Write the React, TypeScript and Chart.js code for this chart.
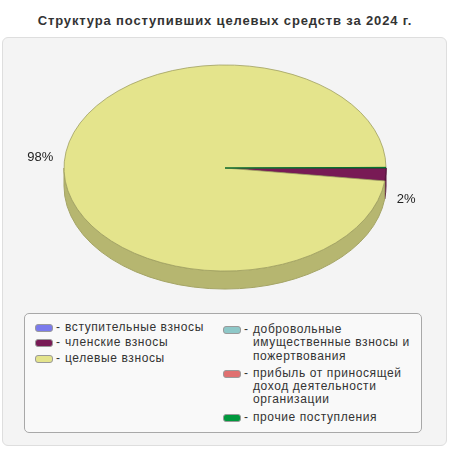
import React, { useEffect, useRef } from 'react';
import { Chart, registerables } from 'chart.js';

Chart.register(...registerables);

const title = 'Структура поступивших целевых средств за 2024 г.';

const categories = [
  'вступительные взносы',
  'членские взносы',
  'целевые взносы',
  'добровольные имущественные взносы и пожертвования',
  'прибыль от приносящей доход деятельности организации',
  'прочие поступления',
];

// shares, %
const shares = [0, 2.0, 97.9, 0, 0, 0.1];

const colors = ['#7b7bec', '#781a55', '#e4e48c', '#8ec8c8', '#e07070', '#00993d'];

const TILT = 0.64; // vertical squash of the pie
const DEPTH = 18; // thickness of the 3D side

const shade = (hex: string, f: number) => {
  const n = parseInt(hex.slice(1), 16);
  const r = Math.round(((n >> 16) & 255) * f);
  const g = Math.round(((n >> 8) & 255) * f);
  const b = Math.round((n & 255) * f);
  return `rgb(${r}, ${g}, ${b})`;
};

const total = shares.reduce((a, b) => a + b, 0);

const pie3d = {
  id: 'pie3d',
  beforeDatasetsDraw(chart: any) {
    const { ctx } = chart;
    const arcs = chart.getDatasetMeta(0).data as any[];
    if (!arcs.length) return;
    const { x: cx, y: cy, outerRadius: R } = arcs[0];
    const ry = R * TILT;

    // side walls, only the front half (0..PI) is visible
    arcs.forEach((arc, i) => {
      for (let k = -1; k <= 1; k++) {
        const lo = Math.max(arc.startAngle, 2 * Math.PI * k);
        const hi = Math.min(arc.endAngle, 2 * Math.PI * k + Math.PI);
        if (hi <= lo) continue;
        ctx.beginPath();
        ctx.ellipse(cx, cy, R, ry, 0, lo, hi);
        ctx.ellipse(cx, cy + DEPTH, R, ry, 0, hi, lo, true);
        ctx.closePath();
        ctx.fillStyle = shade(colors[i], 0.8);
        ctx.fill();
        ctx.strokeStyle = shade(colors[i], 0.72);
        ctx.lineWidth = 1;
        ctx.stroke();
      }
    });

    // squash the top face into an ellipse
    ctx.save();
    ctx.translate(cx, cy);
    ctx.scale(1, TILT);
    ctx.translate(-cx, -cy);
  },
  afterDatasetsDraw(chart: any) {
    const { ctx } = chart;
    ctx.restore();
    const arcs = chart.getDatasetMeta(0).data as any[];
    if (!arcs.length) return;
    const { x: cx, y: cy, outerRadius: R } = arcs[0];
    const ry = R * TILT;

    ctx.save();
    ctx.font = '13px "Liberation Sans", Arial, sans-serif';
    ctx.fillStyle = '#222';
    ctx.textBaseline = 'alphabetic';
    arcs.forEach((arc, i) => {
      const pct = (shares[i] / total) * 100;
      if (pct < 1) return;
      const mid = (arc.startAngle + arc.endAngle) / 2;
      const c = Math.cos(mid);
      const s = Math.sin(mid);
      const x = cx + (R + 11) * c;
      let y = cy + (ry + 12) * s;
      if (s > 0) y += DEPTH + 9.3;
      ctx.textAlign = c < 0 ? 'right' : 'left';
      ctx.fillText(`${Math.round(pct)}%`, x, y);
    });
    ctx.restore();
  },
};

const LegendItem = ({ label, color, gap }: { label: string; color: string; gap: number }) => (
  <div style={{ display: 'flex', alignItems: 'flex-start', marginBottom: gap }}>
    <div
      style={{
        width: 16,
        height: 6,
        marginTop: 3,
        background: color,
        border: '1px solid #9a9a9a',
        borderRadius: 3,
        flex: 'none',
      }}
    />
    <span style={{ width: 12, paddingLeft: 3, boxSizing: 'border-box', flex: 'none' }}>-</span>
    <span style={{ width: 163 }}>{label}</span>
  </div>
);

export default function App() {
  const canvasRef = useRef<HTMLCanvasElement | null>(null);

  useEffect(() => {
    if (!canvasRef.current) return;
    const chart = new Chart(canvasRef.current, {
      type: 'pie',
      data: {
        labels: categories,
        datasets: [
          {
            data: shares,
            backgroundColor: colors,
            borderColor: colors.map(c => shade(c, 0.7)),
            borderWidth: 1,
            hoverOffset: 0,
          },
        ],
      },
      options: {
        responsive: false,
        animation: false,
        events: [],
        rotation: 90,
        radius: 161,
        layout: { padding: { top: 0, bottom: 114, left: 0, right: 0 } },
        plugins: {
          legend: { display: false },
          title: { display: false },
          tooltip: { enabled: false },
        },
      },
      plugins: [pie3d],
    });
    return () => chart.destroy();
  }, []);

  const half = Math.ceil(categories.length / 2);

  return (
    <div
      style={{
        position: 'absolute',
        left: 0,
        top: 0,
        width: 450,
        height: 450,
        background: '#fff',
        fontFamily: '"Liberation Sans", Arial, sans-serif',
        color: '#333',
      }}
    >
      <div
        style={{
          position: 'absolute',
          top: 13,
          left: 0,
          width: 450,
          textAlign: 'center',
          fontWeight: 'bold',
          fontSize: 13,
          letterSpacing: '0.85px',
          color: '#333',
        }}
      >
        {title}
      </div>
      <div
        style={{
          position: 'absolute',
          left: 2,
          top: 37,
          width: 445,
          height: 409,
          boxSizing: 'border-box',
          background: '#f4f4f4',
          border: '1px solid #dedede',
          borderRadius: 6,
        }}
      />
      <canvas
        ref={canvasRef}
        width={450}
        height={450}
        style={{ position: 'absolute', left: 0, top: 0 }}
      />
      <div
        style={{
          position: 'absolute',
          left: 24,
          top: 313,
          width: 398,
          height: 120,
          boxSizing: 'border-box',
          background: '#f9f9f9',
          border: '1px solid #a8a8a8',
          borderRadius: 5,
          padding: '7px 0 0 10px',
          display: 'flex',
          fontSize: 12,
          letterSpacing: '0.6px',
          lineHeight: '13.3px',
        }}
      >
        <div style={{ width: 188 }}>
          {categories.slice(0, half).map((c, i) => (
            <LegendItem key={c} label={c} color={colors[i]} gap={2} />
          ))}
        </div>
        <div style={{ paddingTop: 2 }}>
          {categories.slice(half).map((c, i) => (
            <LegendItem key={c} label={c} color={colors[i + half]} gap={4} />
          ))}
        </div>
      </div>
    </div>
  );
}
